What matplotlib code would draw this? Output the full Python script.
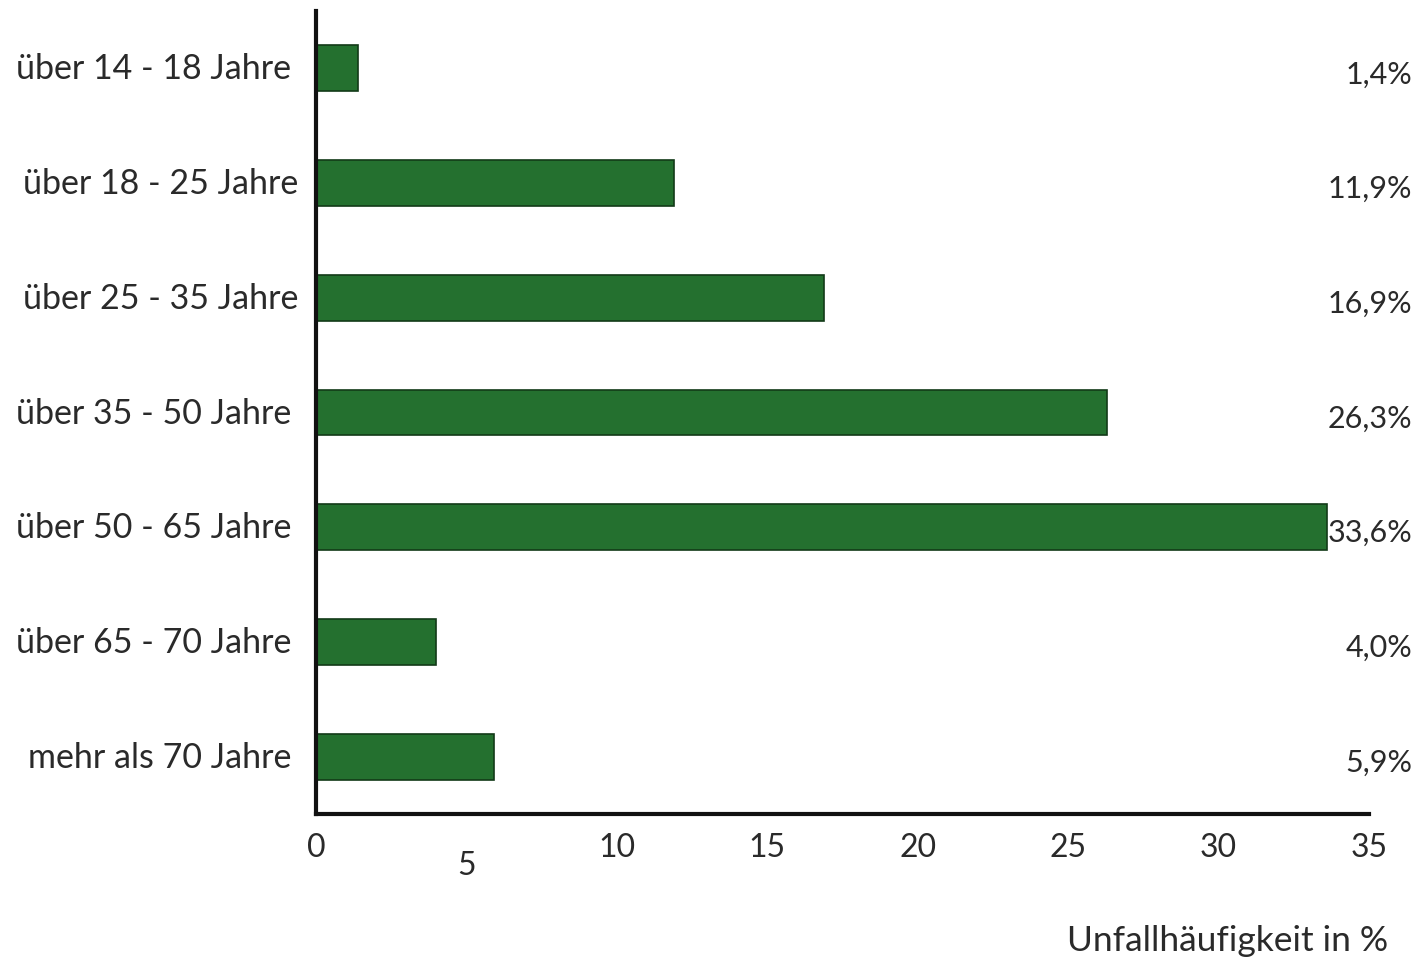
import matplotlib
matplotlib.use("Agg")
import matplotlib.pyplot as plt
from matplotlib.transforms import ScaledTranslation, blended_transform_factory

categories = ["über 14 - 18 Jahre", "über 18 - 25 Jahre", "über 25 - 35 Jahre",
              "über 35 - 50 Jahre", "über 50 - 65 Jahre", "über 65 - 70 Jahre",
              "mehr als 70 Jahre"]
values = [1.4, 11.9, 16.9, 26.3, 33.6, 4.0, 5.9]
value_labels = ["1,4%", "11,9%", "16,9%", "26,3%", "33,6%", "4,0%", "5,9%"]
xticks = [0, 5, 10, 15, 20, 25, 30, 35]
xlabel = "Unfallhäufigkeit in %"

plt.rcParams['font.family'] = ['Lato', 'DejaVu Sans']
txt = "#2a2a2a"

fig = plt.figure(figsize=(14.19, 9.62), dpi=100)
ax = fig.add_axes([316/1419, 1-815/962, (1369-316)/1419, (815-12)/962])

pos = list(range(len(categories)))
ax.barh(pos, values, height=0.4, color="#24702f", edgecolor="#123a18", linewidth=1.2)
ax.set_ylim(6.5, -0.5)
ax.set_xlim(0, 35)

ax.set_yticks(pos)
ax.set_yticklabels(categories, fontsize=24.5, color=txt)
ax.tick_params(axis='y', length=0)
pads = [18, 13, 13, 18, 18, 18, 18]
for t, p in zip(ax.yaxis.get_major_ticks(), pads):
    t.set_pad(p)
for lab in ax.get_yticklabels():
    lab.set_transform(lab.get_transform() + ScaledTranslation(0, 3/100, fig.dpi_scale_trans))

ax.set_xticks(xticks)
ax.set_xticklabels([str(v) for v in xticks], fontsize=23, color=txt)
ax.tick_params(axis='x', length=0, pad=13)
ax.xaxis.get_major_ticks()[1].set_pad(26)

for s in ['top', 'right']:
    ax.spines[s].set_visible(False)
for s in ['left', 'bottom']:
    ax.spines[s].set_linewidth(3)
    ax.spines[s].set_color("#111111")

tr = blended_transform_factory(fig.transFigure, ax.transData) + ScaledTranslation(0, -5/100, fig.dpi_scale_trans)
for y, lab in zip(pos, value_labels):
    ax.text(1412/1419, y, lab, transform=tr, ha='right', va='center', fontsize=22, color=txt)

fig.text(1388/1419, 1-941/962, xlabel, ha='right', va='center', fontsize=25.5, color=txt)

fig.savefig("out.png", dpi=100, facecolor="white")
